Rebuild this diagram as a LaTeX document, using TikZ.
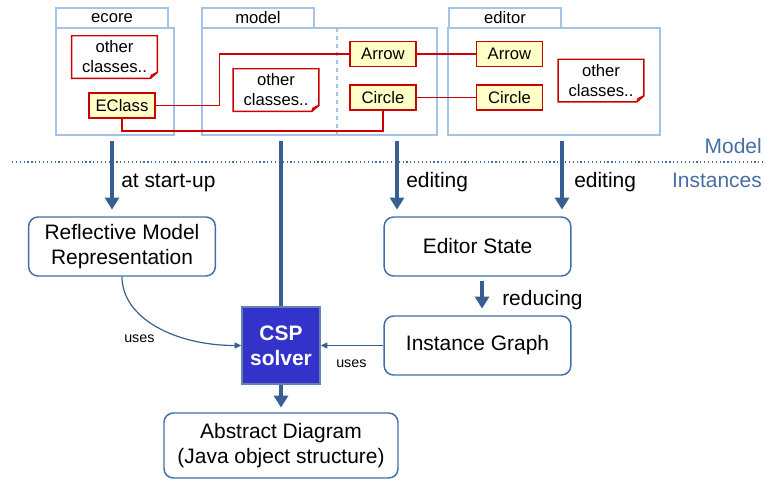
\documentclass[tikz,border=0pt]{standalone}
\usepackage{fontspec}
\setmainfont{Liberation Sans}
\usetikzlibrary{arrows.meta,calc}

\definecolor{pkgline}{RGB}{165,195,228}
\definecolor{clsred}{RGB}{204,0,0}
\definecolor{clsfill}{RGB}{255,255,200}
\definecolor{flowblue}{RGB}{54,96,146}
\definecolor{boxline}{RGB}{65,110,165}
\definecolor{cspfill}{RGB}{51,51,204}
\definecolor{cspline}{RGB}{100,130,170}
\definecolor{layertext}{RGB}{70,110,165}

% note outline with folded corner
\newcommand{\dognote}[1]{%
  \draw[clsred, line width=1.1pt] (#1.north west) -- (#1.north east) -- ($(#1.south east)+(0,-6)$) -- ($(#1.south east)+(-7,0)$) -- (#1.south west) -- cycle;
  \draw[clsred, line width=1.1pt] ($(#1.south east)+(0,-6)$) -- ($(#1.south east)+(-6,-3)$) -- ($(#1.south east)+(-7,0)$);}

\begin{document}
\begin{tikzpicture}[x=0.75pt,y=0.75pt,yscale=-1,xscale=1,
  bigfont/.style={font=\fontsize{15.7}{18.75}\selectfont},
  smallfont/.style={font=\fontsize{12.5}{15}\selectfont},
  pkgtab/.style={draw=pkgline, line width=1.1pt, minimum width=84pt, minimum height=15pt, inner sep=0pt, smallfont},
  pkg/.style={draw=pkgline, line width=1.1pt},
  cls/.style={draw=clsred, fill=clsfill, line width=1.1pt, minimum width=49.5pt, minimum height=19pt, inner sep=0pt, smallfont},
  note/.style={minimum width=64pt, minimum height=31.5pt, inner sep=0pt, align=center, smallfont},
  link/.style={clsred, line width=1.1pt},
  stagebox/.style={draw=boxline, line width=1.1pt, rounded corners=7pt, minimum width=140pt, minimum height=44.25pt, inner sep=0pt, align=center, bigfont},
  flow/.style={flowblue, line width=3pt, -{Triangle[width=10.5pt,length=9pt]}},
  uses/.style={flowblue, line width=0.9pt, -{Triangle[width=4.5pt,length=5pt]}},
  lbl/.style={anchor=base west, inner sep=0pt, bigfont},
]
\useasboundingbox (0,0) rectangle (766,479);

%Packages
\node[pkgtab] (ecoretab) at (112,18) {ecore};
\node[pkgtab] (modeltab) at (258,18) {model};
\node[pkgtab] (editortab) at (505,18) {editor};
\draw[pkg] (56,28) rectangle (174,135);
\draw[pkg] (202,28) rectangle (437,135);
\draw[pkg] (448,28) rectangle (660,135);
\draw[pkgline, line width=0.8pt, dashed] (337,28) -- (337,135);

%Classes
\node[note] (noteecore) at (114.5,57) {other\\classes..};
\dognote{noteecore}
\node[cls] (eclass) at (122,105.5) {EClass};
\node[note] (notemodel) at (276,90) {other\\classes..};
\dognote{notemodel}
\node[cls] (arrowm) at (383,54) {Arrow};
\node[cls] (circlem) at (383,97.5) {Circle};
\node[cls] (arrowe) at (509.5,54) {Arrow};
\node[cls] (circlee) at (509.5,97.5) {Circle};
\node[note] (noteeditor) at (601,80.5) {other\\classes..};
\dognote{noteeditor}

%Class links
\draw[link] (eclass.east) -- ++(64,0) |- (arrowm.west);
\draw[link] (eclass.south) -- ++(0,12) -| (circlem.south);
\draw[link] (arrowm.east) -- (arrowe.west);
\draw[link] (circlem.east) -- (circlee.west);

%Layer separator
\draw[layertext, dotted, line width=0.9pt] (12,162) -- (766,162);
\node[anchor=base east, inner sep=0pt, bigfont, text=layertext] (modellbl) at (762,153) {Model};
\node[anchor=base east, inner sep=0pt, bigfont, text=layertext] (instlbl) at (762,187) {Instances};

%Instance boxes
\node[stagebox] (refl) at (122,246.5) {Reflective Model\\Representation};
\node[stagebox] (edstate) at (477.5,246.5) {Editor State};
\node[stagebox] (instgraph) at (477.5,345.5) {Instance Graph};
\node[draw=cspline, fill=cspfill, line width=1.1pt, minimum width=58.5pt, minimum height=57.75pt, inner sep=0pt, align=center, text=white, font=\fontsize{15.7}{18.75}\selectfont\bfseries] (csp) at (281,345.5) {CSP\\solver};
\node[stagebox, minimum width=175.5pt, minimum height=48.75pt] (abstr) at (281,445.5) {Abstract Diagram\\(Java object structure)};

%Flows
\coordinate (s1) at (112,141);
\coordinate (s2) at (281,141);
\coordinate (s3) at (397,141);
\coordinate (s4) at (562,141);
\draw[flow, shorten >=5pt] (s1) -- (s1 |- refl.north);
\draw[flowblue, line width=3pt] (s2) -- (csp.north);
\draw[flow, shorten >=5pt] (s3) -- (s3 |- edstate.north);
\draw[flow, shorten >=5pt] (s4) -- (s4 |- edstate.north);
\draw[flow, shorten <=3pt, shorten >=5pt] ([xshift=3.4pt]edstate.south) -- ([xshift=3.4pt]instgraph.north);
\draw[flow, shorten >=3.5pt] (csp.south) -- (abstr.north);
\draw[uses] (refl.south) .. controls (122,318) and (175,345.5) .. (csp.west);
\draw[uses] (instgraph.west) -- (csp.east);

%Labels
\node[lbl] (startlbl) at (121,187) {at start-up};
\node[lbl] (editlbla) at (406,187) {editing};
\node[lbl] (editlblb) at (574,187) {editing};
\node[lbl] (reducelbl) at (502,305) {reducing};
\node[anchor=base west, inner sep=0pt, font=\fontsize{10.7}{12}\selectfont] (useslbla) at (124,342) {uses};
\node[anchor=base west, inner sep=0pt, font=\fontsize{10.7}{12}\selectfont] (useslblb) at (336,367) {uses};

\end{tikzpicture}
\end{document}
